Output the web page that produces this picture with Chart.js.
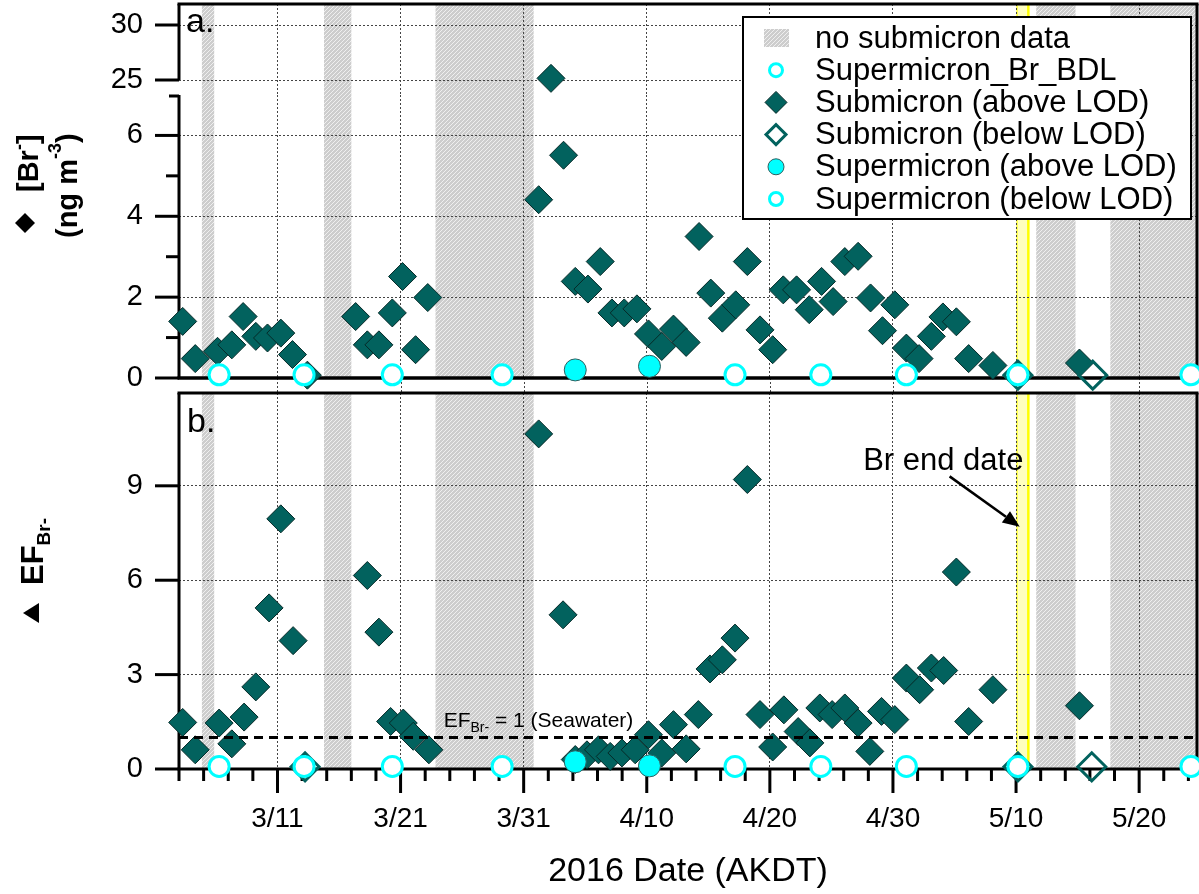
<!DOCTYPE html>
<html lang="en">
<head>
<meta charset="UTF-8">
<title>Bromide in submicron and supermicron aerosol, spring 2016</title>
<style>
  body { margin: 0; background: #fff; }
  #figure { position: relative; width: 1199px; height: 894px; }
  #figure canvas { position: absolute; left: 0; top: 0; }
</style>
</head>
<body>
<div id="figure">
  <canvas id="efChart" width="1199" height="894"></canvas>
  <canvas id="brLowChart" width="1199" height="894"></canvas>
  <canvas id="brHighChart" width="1199" height="894"></canvas>
</div>
<script src="https://cdn.jsdelivr.net/npm/chart.js"></script>
<script>
// x values are days after 2016-03-01 (AKDT): 10 = 3/11, 40 = 4/10
const X_MIN = 2, X_MAX = 84.7;
const dateTicks = [10, 20, 30, 40, 50, 60, 70, 80];

// periods without submicron samples, and the day Br sampling ended
const noSubmicron = [[3.86, 4.86], [13.78, 16.0], [22.84, 30.81], [71.64, 74.83], [77.66, 90]];
const brEndDay = [70, 71];

// panel a: submicron [Br-] (ng m-3), above LOD
const subDayA = [2.30, 3.32, 5.13, 6.29, 7.21, 8.24, 9.19, 10.27, 11.22, 12.43,
  16.35, 17.30, 18.24, 19.33, 20.16, 21.22, 22.21,
  31.22, 32.22, 33.24, 34.19, 35.22, 36.22, 37.17, 38.17, 39.20, 40.14,
  41.22, 42.17, 43.20, 44.25, 45.20, 46.14, 47.23, 48.17, 49.20, 50.23,
  51.09, 52.17, 53.20, 54.20, 55.14, 56.09, 57.17, 58.18, 59.15, 60.15,
  61.09, 62.12, 63.12, 64.06, 65.15, 66.15, 68.12, 75.15];
const subBrA = [1.40, 0.48, 0.66, 0.82, 1.52, 1.03, 0.99, 1.11, 0.58, 0.07,
  1.52, 0.82, 0.82, 1.61, 2.51, 0.70, 1.99,
  4.41, 25.15, 5.51, 2.39, 2.20, 2.88, 1.61, 1.61, 1.71, 1.09,
  0.78, 1.21, 0.88, 3.50, 2.10, 1.48, 1.81, 2.88, 1.19, 0.70,
  2.18, 2.18, 1.69, 2.39, 1.89, 2.88, 3.01, 1.98, 1.17, 1.81,
  0.74, 0.48, 1.03, 1.51, 1.39, 0.48, 0.31, 0.37];
// submicron below LOD
const lodDayA = [70.15, 76.23];
const lodBrA = [0.07, 0.07];

// supermicron samples
const bdlDay = [5.26, 12.16, 19.33, 28.25, 47.17, 54.14, 61.09, 70.15, 84.21];
const bdlBrA = [0.08, 0.08, 0.08, 0.08, 0.08, 0.08, 0.08, 0.08, 0.08];
const superDay = [34.19, 40.22];
const superBrA = [0.20, 0.29];

// panel b: enrichment factor EF(Br-), submicron above LOD
const subDayB = [2.30, 3.32, 5.26, 6.29, 7.29, 8.24, 9.32, 10.27, 11.27,
  17.30, 18.24, 19.19, 20.22, 21.03, 22.30,
  31.22, 33.20, 34.19, 35.14, 36.08, 37.03, 37.98, 39.06, 40.14,
  41.22, 42.17, 43.20, 44.19, 45.14, 46.14, 47.17, 48.17, 49.20, 50.23,
  51.14, 52.30, 53.25, 54.06, 55.06, 56.09, 57.17, 58.12, 59.07, 60.15,
  61.09, 62.17, 63.12, 64.12, 65.15, 66.15, 68.12, 75.15];
const subEfB = [1.48, 0.61, 1.46, 0.80, 1.65, 2.61, 5.12, 7.95, 4.08,
  6.15, 4.35, 1.51, 1.46, 1.04, 0.61,
  10.65, 4.90, 0.30, 0.45, 0.61, 0.40, 0.51, 0.61, 1.09,
  0.51, 1.41, 0.64, 1.73, 3.18, 3.47, 4.16, 9.20, 1.73, 0.70,
  1.88, 1.19, 0.83, 1.94, 1.73, 1.94, 1.46, 0.56, 1.83, 1.57,
  2.89, 2.52, 3.21, 3.13, 6.26, 1.51, 2.52, 2.01];
const lodDayB = [12.24, 70.15, 76.15];
const lodEfB = [0.07, 0.07, 0.07];
const bdlEfB = [0.08, 0.08, 0.08, 0.08, 0.08, 0.08, 0.08, 0.08, 0.08];
const superEfB = [0.23, 0.10];
const seawaterEF = 1;

const legendLabels = ['no submicron data', 'Supermicron_Br_BDL', 'Submicron (above LOD)',
  'Submicron (below LOD)', 'Supermicron (above LOD)', 'Supermicron (below LOD)'];

const FONT = '"Liberation Sans", Arial, Helvetica, sans-serif';
const TEAL = '#02625e';
const CYAN = '#00ffff';
const GRID = '#444';

Chart.defaults.font.family = FONT;
Chart.defaults.color = '#000';

const pts = (xs, ys) => xs.map((x, i) => ({ x, y: ys[i] }));

function dayLabel(v) {
  const d = new Date(2016, 2, 1 + v);
  return (d.getMonth() + 1) + '/' + d.getDate();
}

// hatch tile for the "no submicron data" periods
const hatch = document.createElement('canvas');
hatch.width = 4; hatch.height = 4;
(function () {
  const g = hatch.getContext('2d');
  g.fillStyle = '#cdcdcd';
  g.fillRect(0, 0, 4, 4);
  g.strokeStyle = '#efefef';
  g.lineWidth = 1;
  g.beginPath();
  g.moveTo(-1, 5); g.lineTo(5, -1);
  g.moveTo(3, 5); g.lineTo(5, 3);
  g.moveTo(-1, 1); g.lineTo(1, -1);
  g.stroke();
})();

function paintPeriods(chart, y0, y1) {
  const { ctx, chartArea: a, scales: { x } } = chart;
  ctx.save();
  ctx.fillStyle = ctx.createPattern(hatch, 'repeat');
  noSubmicron.forEach(([s, e]) => {
    const l = Math.max(x.getPixelForValue(s), a.left);
    const r = Math.min(x.getPixelForValue(e), a.right);
    ctx.fillRect(l, y0, r - l, y1 - y0);
  });
  const l = x.getPixelForValue(brEndDay[0]);
  const r = x.getPixelForValue(brEndDay[1]);
  ctx.fillStyle = '#ffffbe';
  ctx.fillRect(l, y0, r - l, y1 - y0);
  ctx.strokeStyle = '#ffff00';
  ctx.lineWidth = 2.5;
  ctx.beginPath(); ctx.moveTo(r, y0); ctx.lineTo(r, y1); ctx.stroke();
  ctx.lineWidth = 1;
  ctx.beginPath(); ctx.moveTo(l + 1, y0); ctx.lineTo(l + 1, y1); ctx.stroke();
  ctx.restore();
}

function seg(ctx, x1, y1, x2, y2, w) {
  ctx.save();
  ctx.strokeStyle = '#000';
  ctx.lineWidth = w || 3;
  ctx.beginPath();
  ctx.moveTo(x1, y1);
  ctx.lineTo(x2, y2);
  ctx.stroke();
  ctx.restore();
}
const tickLeft = (ctx, x, y, len) => seg(ctx, x - len, y, x, y, 3);
const tickDown = (ctx, x, y, len) => seg(ctx, x, y, x, y + len, 3);

// text made of runs (for sub/superscripts), optionally rotated
function drawRuns(ctx, x, y, runs, angle) {
  ctx.save();
  ctx.translate(x, y);
  ctx.rotate(angle || 0);
  ctx.textAlign = 'left';
  ctx.textBaseline = 'alphabetic';
  ctx.fillStyle = '#000';
  let cx = 0;
  runs.forEach(r => {
    ctx.font = r.font;
    ctx.fillText(r.text, cx, r.dy || 0);
    cx += ctx.measureText(r.text).width;
  });
  ctx.restore();
}

function diamond(ctx, x, y, r, fill, stroke, w) {
  ctx.beginPath();
  ctx.moveTo(x - r, y); ctx.lineTo(x, y - r); ctx.lineTo(x + r, y); ctx.lineTo(x, y + r);
  ctx.closePath();
  if (fill) { ctx.fillStyle = fill; ctx.fill(); }
  if (stroke) { ctx.strokeStyle = stroke; ctx.lineWidth = w; ctx.stroke(); }
}
function circle(ctx, x, y, r, fill, stroke, w) {
  ctx.beginPath();
  ctx.arc(x, y, r, 0, Math.PI * 2);
  if (fill) { ctx.fillStyle = fill; ctx.fill(); }
  if (stroke) { ctx.strokeStyle = stroke; ctx.lineWidth = w; ctx.stroke(); }
}

function drawLegend(ctx) {
  const left = 743, top = 17, w = 448, h = 202, row = 32.2, sx = 776;
  ctx.save();
  ctx.fillStyle = '#fff';
  ctx.fillRect(left, top, w, h);
  ctx.strokeStyle = '#000';
  ctx.lineWidth = 2;
  ctx.strokeRect(left, top, w, h);
  legendLabels.forEach((t, i) => {
    const cy = top + 21 + i * row;
    if (i === 0) {
      ctx.fillStyle = ctx.createPattern(hatch, 'repeat');
      ctx.fillRect(sx - 12, cy - 9, 25, 18);
    } else if (i === 1 || i === 5) {
      circle(ctx, sx, cy, 6.5, '#fff', CYAN, 3);
    } else if (i === 2) {
      diamond(ctx, sx, cy, 11, TEAL, '#062a28', 1);
    } else if (i === 3) {
      diamond(ctx, sx, cy, 10, null, TEAL, 3);
    } else if (i === 4) {
      circle(ctx, sx, cy, 8, CYAN, '#2f5f5f', 1);
    }
    ctx.fillStyle = '#000';
    ctx.font = '31px ' + FONT;
    ctx.textBaseline = 'middle';
    ctx.fillText(t, 815, cy + 1);
  });
  ctx.restore();
}

function markerSets(p, clip) {
  const sets = [
    { label: 'Supermicron_Br_BDL', data: pts(bdlDay, p.bdl), order: 0,
      pointStyle: 'circle', pointRadius: 10, pointBorderWidth: 3,
      pointBorderColor: CYAN, pointBackgroundColor: '#fff' },
    { label: 'Supermicron (above LOD)', data: pts(superDay, p.sup), order: 0,
      pointStyle: 'circle', pointRadius: 11, pointBorderWidth: 1,
      pointBorderColor: '#2f5f5f', pointBackgroundColor: CYAN },
    { label: 'Submicron (below LOD)', data: pts(p.lodDay, p.lod), order: 1,
      pointStyle: 'rectRot', pointRadius: 14, pointBorderWidth: 3,
      pointBorderColor: TEAL, pointBackgroundColor: 'rgba(0,0,0,0)' },
    { label: 'Submicron (above LOD)', data: pts(p.subDay, p.sub), order: 1,
      pointStyle: 'rectRot', pointRadius: 14, pointBorderWidth: 1,
      pointBorderColor: '#062a28', pointBackgroundColor: TEAL }
  ];
  if (!clip) sets.forEach(s => { s.clip = false; });
  return sets;
}

// fixed axis sizes; drop the label overhang padding so the plot box stays put
function xAxis(withLabels) {
  return {
    type: 'linear', min: X_MIN, max: X_MAX,
    afterBuildTicks: s => { s.ticks = dateTicks.map(v => ({ value: v })); },
    afterFit: s => { s.height = withLabels ? 125 : 0; s.paddingLeft = 0; s.paddingRight = 0; },
    grid: { color: GRID, lineWidth: 1, drawTicks: false },
    border: { display: false, dash: [2, 2] },
    ticks: { display: withLabels, padding: 33, autoSkip: false, maxRotation: 0,
      font: { size: 28 }, color: '#000', callback: v => dayLabel(v) },
    title: { display: withLabels, text: '2016 Date (AKDT)', color: '#000',
      font: { size: 34 }, padding: { top: 0, bottom: 2 } }
  };
}

function yAxis(min, max, ticks) {
  return {
    type: 'linear', min, max,
    afterBuildTicks: s => { s.ticks = ticks.map(v => ({ value: v })); },
    afterFit: s => { s.width = 179; s.paddingTop = 0; s.paddingBottom = 0; },
    grid: { color: GRID, lineWidth: 1, drawTicks: false },
    border: { display: false, dash: [2, 2] },
    ticks: { padding: 36, font: { size: 29 }, color: '#000' }
  };
}

function baseOptions(top, bottom, x, y) {
  return {
    responsive: false,
    animation: false,
    events: [],
    layout: { autoPadding: false, padding: { top, bottom, left: 0, right: 2 } },
    plugins: { legend: { display: false }, tooltip: { enabled: false } },
    scales: { x, y }
  };
}

// ---- panel b: EF(Br-) ----
const panelBDecor = {
  id: 'panelBDecor',
  beforeDraw(chart) {
    const { ctx, chartArea: a, scales: { x } } = chart;
    paintPeriods(chart, a.top, a.bottom);
    // grid lines carry on through the strip between the panels
    ctx.save();
    ctx.strokeStyle = GRID;
    ctx.lineWidth = 1;
    ctx.setLineDash([2, 2]);
    dateTicks.forEach(v => {
      const px = Math.round(x.getPixelForValue(v)) + 0.5;
      ctx.beginPath(); ctx.moveTo(px, 378); ctx.lineTo(px, a.top); ctx.stroke();
    });
    ctx.restore();
  },
  beforeDatasetsDraw(chart) {
    const { ctx, chartArea: a, scales: { x, y } } = chart;
    seg(ctx, a.left - 1.5, a.top, a.right + 1.5, a.top);
    seg(ctx, a.left - 1.5, a.bottom, a.right + 1.5, a.bottom);
    seg(ctx, a.left, a.top, a.left, a.bottom);
    seg(ctx, a.right, a.top, a.right, a.bottom);
    [0, 3, 6, 9].forEach(v => tickLeft(ctx, a.left, y.getPixelForValue(v), 24));
    for (let d = 2; d <= X_MAX; d += 2) {
      tickDown(ctx, x.getPixelForValue(d), a.bottom, d % 10 === 0 ? 24 : 12);
    }
  },
  afterDraw(chart) {
    const { ctx, chartArea: a, scales: { x, y } } = chart;
    drawRuns(ctx, a.left + 8, a.top + 39, [{ text: 'b.', font: '34px ' + FONT }]);

    // axis title: triangle marker + EF with subscript
    ctx.save();
    ctx.fillStyle = '#000';
    ctx.beginPath();
    ctx.moveTo(23, 613); ctx.lineTo(39, 603); ctx.lineTo(39, 623);
    ctx.closePath(); ctx.fill();
    ctx.restore();
    drawRuns(ctx, 43, 585, [
      { text: 'EF', font: 'bold 31px ' + FONT },
      { text: 'Br-', font: 'bold 19px ' + FONT, dy: 7 }
    ], -Math.PI / 2);

    // seawater reference label
    const sy = y.getPixelForValue(seawaterEF);
    drawRuns(ctx, x.getPixelForValue(23.5), sy - 11, [
      { text: 'EF', font: '21px ' + FONT },
      { text: 'Br-', font: '14px ' + FONT, dy: 5 },
      { text: ' = 1 (Seawater)', font: '21px ' + FONT }
    ]);

    // end of Br sampling
    ctx.save();
    ctx.font = '31px ' + FONT;
    ctx.fillStyle = '#000';
    ctx.textAlign = 'right';
    ctx.textBaseline = 'alphabetic';
    ctx.fillText('Br end date', x.getPixelForValue(brEndDay[0] + 0.6), y.getPixelForValue(9.5));
    const x0 = x.getPixelForValue(64.6), y0 = y.getPixelForValue(9.3);
    const x1 = x.getPixelForValue(70.3), y1 = y.getPixelForValue(7.7);
    const ang = Math.atan2(y1 - y0, x1 - x0);
    const hl = 17, hw = 7;
    const bx = x1 - hl * Math.cos(ang), by = y1 - hl * Math.sin(ang);
    seg(ctx, x0, y0, bx, by, 2.5);
    ctx.beginPath();
    ctx.moveTo(x1, y1);
    ctx.lineTo(bx + hw * Math.sin(ang), by - hw * Math.cos(ang));
    ctx.lineTo(bx - hw * Math.sin(ang), by + hw * Math.cos(ang));
    ctx.closePath();
    ctx.fill();
    ctx.restore();
  }
};

const efSets = markerSets({ bdl: bdlEfB, sup: superEfB, lodDay: lodDayB, lod: lodEfB,
  subDay: subDayB, sub: subEfB }, false);
efSets.push({
  label: 'EF = 1 (Seawater)', data: [{ x: X_MIN, y: seawaterEF }, { x: X_MAX, y: seawaterEF }],
  showLine: true, borderColor: '#000', borderWidth: 3, borderDash: [9, 6],
  pointRadius: 0, order: -1
});

new Chart(document.getElementById('efChart'), {
  type: 'scatter',
  data: { datasets: efSets },
  options: baseOptions(393, 0, xAxis(true), yAxis(0, 11.95, [0, 3, 6, 9])),
  plugins: [panelBDecor]
});

// ---- panel a, lower segment (0-7 ng m-3) ----
const brLowDecor = {
  id: 'brLowDecor',
  beforeDraw(chart) {
    const a = chart.chartArea;
    paintPeriods(chart, a.top, a.bottom);
  },
  beforeDatasetsDraw(chart) {
    const { ctx, chartArea: a, scales: { y } } = chart;
    seg(ctx, a.left, a.top, a.left, a.bottom);
    seg(ctx, a.right, a.top, a.right, a.bottom);
    seg(ctx, a.left - 1.5, a.bottom, a.right + 1.5, a.bottom, 3.5);
    [0, 2, 4, 6].forEach(v => tickLeft(ctx, a.left, y.getPixelForValue(v), 24));
    [1, 3, 5].forEach(v => tickLeft(ctx, a.left, y.getPixelForValue(v), 13));
    tickLeft(ctx, a.left, a.top + 1, 10);
  },
  afterDraw(chart) {
    const { ctx } = chart;
    // axis title: diamond marker + [Br-] (ng m-3)
    diamond(ctx, 25, 223, 10, '#000');
    drawRuns(ctx, 38, 192, [
      { text: '[Br', font: 'bold 29px ' + FONT },
      { text: '-', font: 'bold 18px ' + FONT, dy: -13 },
      { text: ']', font: 'bold 29px ' + FONT }
    ], -Math.PI / 2);
    drawRuns(ctx, 77, 238, [
      { text: '(ng m', font: 'bold 29px ' + FONT },
      { text: '-3', font: 'bold 18px ' + FONT, dy: -16 },
      { text: ')', font: 'bold 29px ' + FONT }
    ], -Math.PI / 2);
  }
};

const brParams = { bdl: bdlBrA, sup: superBrA, lodDay: lodDayA, lod: lodBrA,
  subDay: subDayA, sub: subBrA };

new Chart(document.getElementById('brLowChart'), {
  type: 'scatter',
  data: { datasets: markerSets(brParams, false) },
  options: baseOptions(95, 894 - 378, xAxis(false), yAxis(0, 7, [0, 2, 4, 6])),
  plugins: [brLowDecor]
});

// ---- panel a, upper segment (25-30 ng m-3) ----
const brHighDecor = {
  id: 'brHighDecor',
  beforeDraw(chart) {
    const a = chart.chartArea;
    paintPeriods(chart, a.top, a.bottom);
  },
  beforeDatasetsDraw(chart) {
    const { ctx, chartArea: a, scales: { y } } = chart;
    seg(ctx, a.left - 1.5, a.top, a.right + 1.5, a.top);
    seg(ctx, a.right, a.top, a.right, a.bottom);
    seg(ctx, a.left, a.top, a.left, y.getPixelForValue(25));
    [25, 30].forEach(v => tickLeft(ctx, a.left, y.getPixelForValue(v), 24));
  },
  afterDraw(chart) {
    const { ctx, chartArea: a } = chart;
    drawRuns(ctx, a.left + 7, a.top + 28, [{ text: 'a.', font: '34px ' + FONT }]);
    drawLegend(ctx);
  }
};

new Chart(document.getElementById('brHighChart'), {
  type: 'scatter',
  data: { datasets: markerSets(brParams, true) },
  options: baseOptions(4, 894 - 95, xAxis(false), yAxis(25 - 15 / 11, 25 + 76 / 11, [25, 30])),
  plugins: [brHighDecor]
});
</script>
</body>
</html>
